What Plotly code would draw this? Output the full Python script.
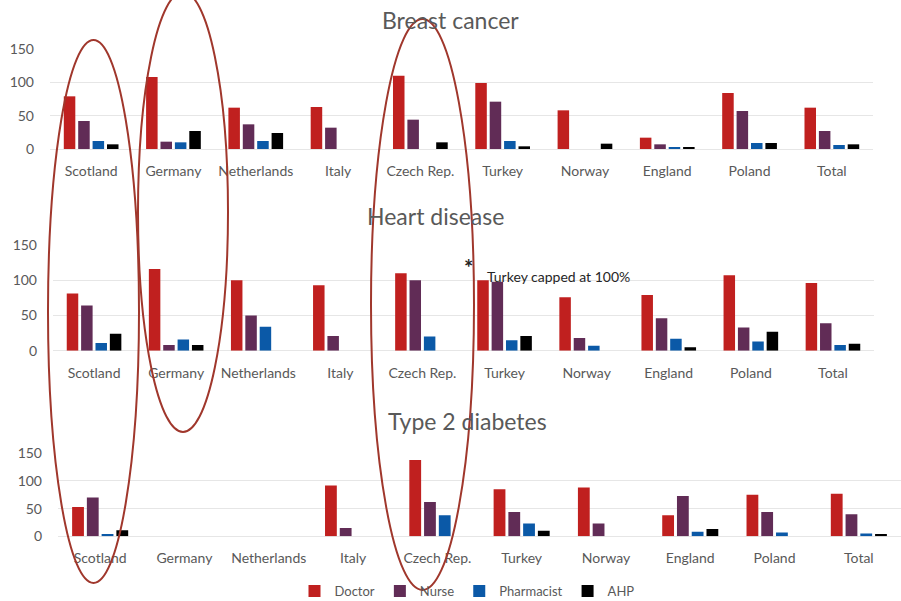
import plotly.graph_objects as go

countries = ["Scotland", "Germany", "Netherlands", "Italy", "Czech Rep.",
             "Turkey", "Norway", "England", "Poland", "Total"]
series_names = ["Doctor", "Nurse", "Pharmacist", "AHP"]
series_colors = ["#C0201F", "#612C56", "#0B59A7", "#000000"]

# Breast cancer
bc_doctor = [79, 108, 62, 63, 110, 99, 58, 17, 84, 62]
bc_nurse = [42, 11, 37, 32, 44, 71, 0, 7, 57, 27]
bc_pharm = [12, 10, 12, 0, 0, 12, 0, 2, 9, 6]
bc_ahp = [7, 27, 24, 0, 10, 4, 8, 2, 9, 7]

# Heart disease
hd_doctor = [81, 116, 100, 93, 110, 100, 76, 79, 107, 96]
hd_nurse = [64, 8, 50, 21, 100, 98, 18, 46, 33, 39]
hd_pharm = [11, 16, 34, 0, 20, 15, 7, 17, 13, 8]
hd_ahp = [24, 8, 0, 0, 0, 21, 0, 5, 27, 10]

# Type 2 diabetes (Germany / Netherlands: no data)
t2_doctor = [53, None, None, 92, 138, 85, 88, 38, 75, 77]
t2_nurse = [70, None, None, 15, 62, 44, 23, 73, 44, 40]
t2_pharm = [4, None, None, 0, 38, 23, 0, 8, 7, 5]
t2_ahp = [11, None, None, 0, 0, 10, 0, 13, 0, 4]

panel_titles = ["Breast cancer", "Heart disease", "Type 2 diabetes"]
y_ticks = [0, 50, 100, 150]
note_text = "Turkey capped at 100%"

panels = [
    [bc_doctor, bc_nurse, bc_pharm, bc_ahp],
    [hd_doctor, hd_nurse, hd_pharm, hd_ahp],
    [t2_doctor, t2_nurse, t2_pharm, t2_ahp],
]

W, H = 901, 601
def px(x):
    return x / W
def py(y):
    return 1 - y / H

# pixel geometry of each panel: (x_left, x_right, y_bottom, y_top)
geom = [
    (50, 873, 149, 49),
    (53, 874, 350.7, 245),
    (58, 901, 536.3, 453.3),
]

FONT = "Lato"
GRAY = "#595959"

fig = go.Figure()
for p, data in enumerate(panels):
    sfx = "" if p == 0 else str(p + 1)
    for s, vals in enumerate(data):
        fig.add_trace(go.Bar(
            x=countries, y=vals, name=series_names[s],
            marker=dict(color=series_colors[s], line=dict(width=0)),
            xaxis="x" + sfx, yaxis="y" + sfx,
            legendgroup=series_names[s], showlegend=(p == 0),
            hoverinfo="x+y+name",
        ))

layout = dict(
    width=W, height=H, autosize=False,
    margin=dict(l=0, r=0, t=0, b=0, pad=0, autoexpand=False),
    paper_bgcolor="white", plot_bgcolor="white",
    barmode="group", bargap=0.3, bargroupgap=0.2,
    font=dict(family=FONT, color=GRAY, size=14),
    legend=dict(orientation="h", x=px(467), xanchor="center", y=py(591), yanchor="middle",
                font=dict(size=13, color=GRAY), itemwidth=30, traceorder="normal",
                bgcolor="rgba(0,0,0,0)"),
)
for p, (xl, xr, yb, yt) in enumerate(geom):
    sfx = "" if p == 0 else str(p + 1)
    layout["xaxis" + sfx] = dict(
        domain=[px(xl), px(xr)], anchor="y" + sfx, type="category",
        categoryorder="array", categoryarray=countries, automargin=False,
        showgrid=False, showline=False, ticks="", ticklabelstandoff=12,
        tickfont=dict(size=14, color=GRAY, family=FONT),
    )
    layout["yaxis" + sfx] = dict(
        domain=[py(yb), py(yt)], anchor="x" + sfx, range=[0, 150], automargin=False,
        tickvals=y_ticks, showgrid=True, gridcolor="#E6E6E6", gridwidth=1,
        zeroline=True, zerolinecolor="#E6E6E6", zerolinewidth=1,
        showline=False, ticks="", ticklabelstandoff=15,
        tickfont=dict(size=14, color=GRAY, family=FONT),
    )
fig.update_layout(**layout)

title_pos = [(450, 20), (435, 216), (467, 421)]
for t, (tx, ty) in zip(panel_titles, title_pos):
    fig.add_annotation(text=t, xref="paper", yref="paper", x=px(tx), y=py(ty),
                       xanchor="center", yanchor="middle", showarrow=False,
                       font=dict(size=23, color=GRAY, family=FONT))

fig.add_annotation(text="<b>*</b>", xref="paper", yref="paper", x=px(468), y=py(267),
                   xanchor="center", yanchor="middle", showarrow=False,
                   font=dict(size=22, color="#222222", family=FONT))
fig.add_annotation(text=note_text, xref="paper", yref="paper", x=px(485), y=py(276),
                   xanchor="left", yanchor="middle", showarrow=False,
                   font=dict(size=14, color="#262626", family=FONT))

ellipses = [(48, 139, 40, 583), (138, 228, -8, 432), (371, 474, 19, 590)]
for x0, x1, y0, y1 in ellipses:
    fig.add_shape(type="circle", xref="paper", yref="paper",
                  x0=px(x0), x1=px(x1), y0=py(y1), y1=py(y0),
                  line=dict(color="#A0372C", width=2), layer="above")

fig.write_html(
    "out.html",
    config={"displayModeBar": False},
    post_script="document.body.style.margin='0';document.body.style.overflow='hidden';",
)
